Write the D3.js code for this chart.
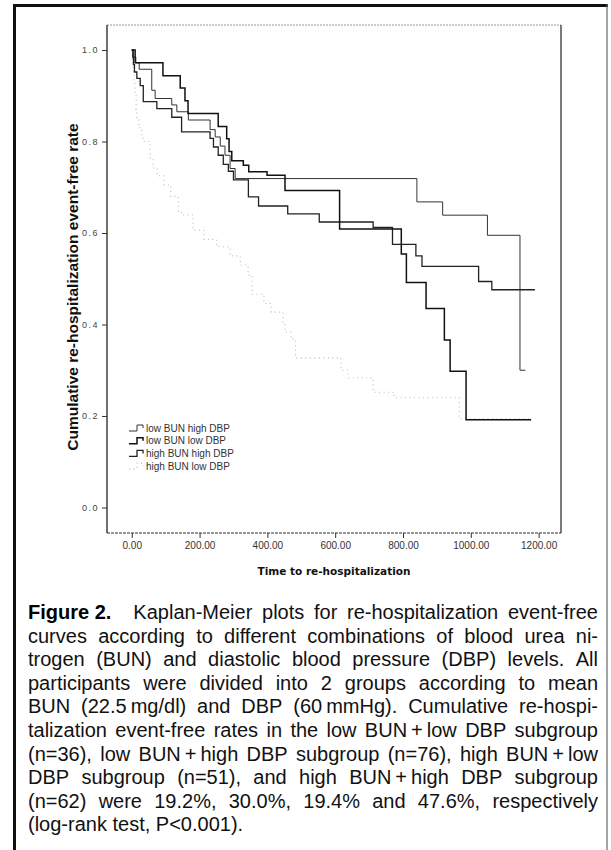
<!DOCTYPE html>
<html>
<head>
<meta charset="utf-8">
<script src="https://cdn.jsdelivr.net/npm/d3@7"></script>
<style>
  html, body { margin: 0; padding: 0; background: #fff; }
  svg { display: block; }
</style>
</head>
<body>
<svg id="chart" width="611" height="850"></svg>
<script>
// ---------------- data ----------------
const seriesNames = ["low BUN high DBP", "low BUN low DBP", "high BUN high DBP", "high BUN low DBP"];

// Kaplan-Meier steps: [time, survival after step]; last point = end of follow-up
const lowBunHighDbp = [[0,1],[5,0.985],[12,0.972],[22,0.958],[59,0.912],[69,0.894],[118,0.880],[133,0.865],[167,0.847],[231,0.826],[246,0.810],[261,0.79],[275,0.77],[290,0.741],[305,0.719],[841,0.668],[917,0.639],[1049,0.595],[1145,0.300],[1161,0.300]];
const lowBunLowDbp = [[0,1],[10,0.972],[92,0.944],[143,0.917],[157,0.889],[166,0.861],[255,0.833],[280,0.806],[287,0.778],[295,0.758],[329,0.748],[345,0.734],[399,0.726],[452,0.693],[613,0.609],[795,0.554],[810,0.492],[868,0.435],[922,0.366],[939,0.298],[986,0.192],[1178,0.192]];
const highBunHighDbp = [[0,1],[3,0.984],[5,0.968],[8,0.952],[15,0.938],[25,0.922],[34,0.887],[74,0.872],[118,0.853],[147,0.821],[231,0.807],[241,0.788],[255,0.770],[270,0.750],[285,0.735],[300,0.716],[344,0.679],[374,0.659],[460,0.642],[553,0.624],[712,0.612],[769,0.575],[838,0.550],[856,0.527],[1023,0.494],[1062,0.476],[1189,0.476]];
const highBunLowDbp = [[0,1],[1,0.98],[4,0.96],[5,0.95],[7,0.93],[9,0.91],[10,0.90],[13,0.87],[15,0.85],[21,0.83],[30,0.81],[33,0.80],[54,0.764],[63,0.742],[75,0.725],[95,0.705],[115,0.68],[137,0.645],[151,0.64],[181,0.606],[213,0.586],[250,0.57],[290,0.55],[320,0.53],[343,0.508],[355,0.466],[390,0.446],[411,0.427],[446,0.405],[452,0.383],[470,0.368],[483,0.327],[617,0.30],[638,0.283],[712,0.252],[774,0.24],[966,0.194],[1180,0.194]];

const xTickValues = [0, 200, 400, 600, 800, 1000, 1200];
const xTickLabels = ["0.00", "200.00", "400.00", "600.00", "800.00", "1000.00", "1200.00"];
const yTickValues = [0, 0.2, 0.4, 0.6, 0.8, 1.0];
const yTickLabels = ["0.0", "0.2", "0.4", "0.6", "0.8", "1.0"];

const xTitle = "Time to re-hospitalization";
const yTitle = "Cumulative re-hospitalization event-free rate";

const captionLabel = "Figure 2.";
const captionLines = [
  "Kaplan-Meier plots for re-hospitalization event-free",
  "curves according to different combinations of blood urea ni-",
  "trogen (BUN) and diastolic blood pressure (DBP) levels. All",
  "participants were divided into 2 groups according to mean",
  "BUN (22.5\u2009mg/dl) and DBP (60\u2009mmHg). Cumulative re-hospi-",
  "talization event-free rates in the low BUN\u2009+\u2009low DBP subgroup",
  "(n=36), low BUN\u2009+\u2009high DBP subgroup (n=76), high BUN\u2009+\u2009low",
  "DBP subgroup (n=51), and high BUN\u2009+\u2009high DBP subgroup",
  "(n=62) were 19.2%, 30.0%, 19.4% and 47.6%, respectively",
  "(log-rank test, P<0.001)."
];

// ---------------- drawing ----------------
const svg = d3.select("#chart");

// outer figure frame
const frame = svg.append("g");
frame.append("line").attr("x1", 13).attr("x2", 608).attr("y1", 5.5).attr("y2", 5.5)
  .attr("stroke", "#111").attr("stroke-width", 3);
frame.append("line").attr("x1", 14.5).attr("x2", 14.5).attr("y1", 4).attr("y2", 850)
  .attr("stroke", "#111").attr("stroke-width", 3);
frame.append("line").attr("x1", 607).attr("x2", 607).attr("y1", 4).attr("y2", 850)
  .attr("stroke", "#666").attr("stroke-width", 1.2);

const plot = { left: 107, right: 561, top: 25, bottom: 533 };
const x = d3.scaleLinear().domain([-73, 1266]).range([plot.left, plot.right]);
const y = d3.scaleLinear().domain([-0.0558, 1.0547]).range([plot.bottom, plot.top]);

// plot frame
svg.append("line").attr("x1", plot.left).attr("x2", plot.right).attr("y1", plot.top).attr("y2", plot.top)
  .attr("stroke", "#999").attr("stroke-width", 1).attr("stroke-dasharray", "2,1");
svg.append("line").attr("x1", plot.right).attr("x2", plot.right).attr("y1", plot.top).attr("y2", plot.bottom)
  .attr("stroke", "#222").attr("stroke-width", 1.2);

// axes
const xAxis = d3.axisBottom(x).tickValues(xTickValues).tickSize(5).tickPadding(4)
  .tickFormat((d, i) => xTickLabels[i]);
const gx = svg.append("g").attr("transform", `translate(0,${plot.bottom})`).call(xAxis);
gx.select(".domain").attr("stroke", "#333").attr("stroke-width", 1.2).attr("stroke-dasharray", "3,1")
  .attr("d", `M${plot.left},0H${plot.right}`);
gx.selectAll(".tick line").attr("stroke", "#333");
gx.selectAll(".tick text").attr("fill", "#333").style("font-family", "Liberation Sans, Arial, sans-serif")
  .style("font-size", "10px");

const yAxis = d3.axisLeft(y).tickValues(yTickValues).tickSize(5).tickPadding(3)
  .tickFormat((d, i) => yTickLabels[i]);
const gy = svg.append("g").attr("transform", `translate(${plot.left},0)`).call(yAxis);
gy.select(".domain").attr("stroke", "#222").attr("stroke-width", 1.3)
  .attr("d", `M0,${plot.top}V${plot.bottom}`);
gy.selectAll(".tick line").attr("stroke", "#333");
gy.selectAll(".tick text").attr("fill", "#444").style("font-family", "Liberation Sans, Arial, sans-serif")
  .style("font-size", "9px").style("letter-spacing", "1.5px");

// axis titles
svg.append("text").attr("x", 334).attr("y", 575).attr("text-anchor", "middle")
  .style("font-family", "DejaVu Sans, Verdana, sans-serif").style("font-weight", "bold")
  .style("font-size", "10.5px").attr("fill", "#111").text(xTitle);
svg.append("text").attr("transform", `translate(78,287) rotate(-90)`)
  .attr("text-anchor", "middle")
  .style("font-family", "Liberation Sans, Arial, sans-serif").style("font-weight", "bold")
  .style("font-size", "15.5px").attr("fill", "#111").text(yTitle);

// curves
const styles = [
  { data: lowBunHighDbp, stroke: "#333", width: 1.0, dash: null },
  { data: lowBunLowDbp, stroke: "#111", width: 1.5, dash: null },
  { data: highBunHighDbp, stroke: "#222", width: 1.3, dash: null },
  { data: highBunLowDbp, stroke: "#b8b8b8", width: 1.1, dash: "1,3.5" }
];
const line = d3.line().x(d => x(d[0])).y(d => y(d[1])).curve(d3.curveStepAfter);
const gc = svg.append("g");
[3, 0, 2, 1].forEach(i => {
  const s = styles[i];
  gc.append("path").attr("d", line(s.data)).attr("fill", "none")
    .attr("stroke", s.stroke).attr("stroke-width", s.width)
    .attr("stroke-dasharray", s.dash);
});

// legend
const lg = svg.append("g").attr("transform", "translate(129,428)");
seriesNames.forEach((name, i) => {
  const s = styles[i];
  const row = lg.append("g").attr("transform", `translate(0,${i * 12.7})`);
  row.append("path").attr("d", "M0,3H8V-3H14V0").attr("fill", "none")
    .attr("stroke", s.stroke).attr("stroke-width", s.width).attr("stroke-dasharray", s.dash);
  row.append("text").attr("x", 17).attr("y", 3.5).text(name)
    .style("font-family", "Liberation Sans, Arial, sans-serif").style("font-size", "10px")
    .attr("fill", "#333");
});

// caption (justified)
const cap = svg.append("g");
const capLeft = 28, capRight = 598, capTop = 619, capLead = 23.6;
const capFont = "Liberation Sans, Arial, sans-serif", capSize = 20;
const normalSpace = capSize * 0.278;
captionLines.forEach((ln, i) => {
  const yy = capTop + i * capLead;
  const lineG = cap.append("g");
  let startX = capLeft;
  if (i === 0) {
    const lbl = lineG.append("text").attr("x", capLeft).attr("y", yy).text(captionLabel)
      .style("font-family", capFont).style("font-size", capSize + "px").style("font-weight", "bold")
      .attr("fill", "#000");
    startX = capLeft + lbl.node().getComputedTextLength() + 22;
  }
  const words = ln.split(" ");
  const nodes = words.map(w => lineG.append("text").attr("y", yy).text(w)
    .style("font-family", capFont).style("font-size", capSize + "px").attr("fill", "#111"));
  const widths = nodes.map(n => n.node().getComputedTextLength());
  const total = d3.sum(widths);
  const last = i === captionLines.length - 1;
  const avail = capRight - startX;
  let gap = last ? normalSpace : (avail - total) / (words.length - 1);
  let sx = 1;
  if (!last && gap < normalSpace * 0.8) {
    gap = normalSpace * 0.8;
    sx = avail / (total + gap * (words.length - 1));
  }
  let cx = startX;
  nodes.forEach((n, k) => { n.attr("x", cx); cx += widths[k] + gap; });
  if (sx !== 1) {
    lineG.attr("transform", `translate(${startX},0) scale(${sx},1) translate(${-startX},0)`);
  }
});
</script>
</body>
</html>
